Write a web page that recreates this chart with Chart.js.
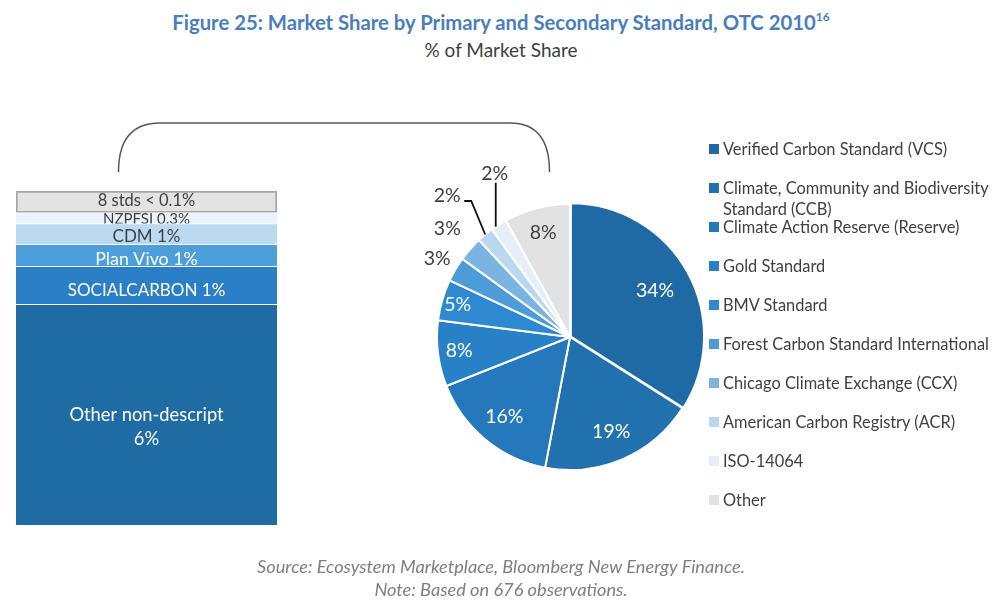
<!DOCTYPE html>
<html><head><meta charset="utf-8">
<script src="https://cdn.jsdelivr.net/npm/chart.js@4.4.0/dist/chart.umd.min.js"></script>
<style>
html,body{margin:0;padding:0;background:#fff;}
#wrap{position:relative;width:1002px;height:605px;overflow:hidden;font-family:Lato,"Open Sans",sans-serif;}
.abs{position:absolute;}
#title{left:0;width:1002px;top:5px;text-align:center;color:#4a7ebb;font-weight:bold;font-size:20.3px;line-height:26px;}
#title sup{font-size:12px;position:relative;top:-1px;}
#sub{left:0;width:1002px;top:38px;text-align:center;color:#404040;font-size:19px;line-height:24px;}
.src{left:0;width:1002px;text-align:center;color:#7f7f7f;font-style:italic;font-size:18.2px;line-height:22px;}
.leg{left:709px;width:293px;color:#404040;font-size:16.4px;line-height:21px;white-space:normal;}
.leg i{position:absolute;left:0;top:6px;width:10px;height:10px;}
.leg span{display:block;margin-left:14px;}
</style></head>
<body><div id="wrap">
<div id="title" class="abs">Figure 25: Market Share by Primary and Secondary Standard, OTC 2010<sup>16</sup></div>
<div id="sub" class="abs">% of Market Share</div>
<svg class="abs" style="left:0;top:0" width="1002" height="605">
<path d="M118.5,172 C118.5,142 130,123 160,123 L510,123 C538,123 549.5,142 549.5,172" fill="none" stroke="#595959" stroke-width="1.5"/>
</svg>
<canvas id="bar" class="abs" style="left:0;top:0" width="300" height="605"></canvas>
<canvas id="pie" class="abs" style="left:300px;top:0" width="702" height="605"></canvas>
<div id="legend"></div>
<div class="abs src" style="top:555px">Source: Ecosystem Marketplace, Bloomberg New Energy Finance.</div>
<div class="abs src" style="top:578px">Note: Based on 676 observations.</div>
</div>
<script>
// ---- data ----
const pieLabels = ['Verified Carbon Standard (VCS)', 'Climate, Community and Biodiversity Standard (CCB)', 'Climate Action Reserve (Reserve)', 'Gold Standard', 'BMV Standard', 'Forest Carbon Standard International', 'Chicago Climate Exchange (CCX)', 'American Carbon Registry (ACR)', 'ISO-14064', 'Other'];
const pieValues = [34, 19, 16, 8, 5, 3, 3, 2, 2, 8];
const pieColors = ['#1f6aa5', '#2171ae', '#2478bb', '#2880c6', '#2e89d1', '#4d9cd8', '#7ab5e1', '#b9d7ef', '#e6eff8', '#e2e2e2'];

const otherNames = ['Other non-descript', 'SOCIALCARBON', 'Plan Vivo', 'CDM', 'NZPFSI', '8 stds < 0.1%'];
const otherShareText = ['6%', '1%', '1%', '1%', '0.3%', ''];
const otherValues = [5.3, 0.91, 0.53, 0.5, 0.26, 0.52];
const otherColors = ['#1f6ba4', '#2a7fc6', '#4d9fdb', '#bbdaf2', '#eaf3fb', '#e3e3e3'];

Chart.defaults.font.family = 'Lato, "Open Sans", sans-serif';

// ---- stacked bar (breakdown of "Other") ----
const barLabelPlugin = {
  id: 'barLabels',
  afterDatasetsDraw(chart, args, opts) {
    const ctx = chart.ctx;
    chart.data.datasets.forEach((ds, i) => {
      const el = chart.getDatasetMeta(i).data[0];
      const p = el.getProps(['x', 'y', 'base', 'width'], true);
      const top = Math.min(p.y, p.base), bot = Math.max(p.y, p.base);
      const st = opts.styles[i];
      const lines = otherShareText[i] === '' ? [otherNames[i]] :
        (st.twoLines ? [otherNames[i], otherShareText[i]] : [otherNames[i] + ' ' + otherShareText[i]]);
      ctx.save();
      ctx.beginPath();
      ctx.rect(p.x - p.width / 2, top, p.width, bot - top);
      ctx.clip();
      ctx.fillStyle = st.color;
      ctx.font = st.size + 'px Lato, sans-serif';
      ctx.textAlign = 'center';
      ctx.textBaseline = 'middle';
      const lh = 24;
      const cy = (top + bot) / 2 + st.dy;
      lines.forEach((t, k) => ctx.fillText(t, p.x, cy + (k - (lines.length - 1) / 2) * lh));
      ctx.restore();
    });
  }
};
const barTotal = otherValues.reduce((a, b) => a + b, 0);
new Chart(document.getElementById('bar'), {
  type: 'bar',
  data: {
    labels: [''],
    datasets: otherNames.map((n, i) => ({
      label: n,
      data: [otherValues[i]],
      backgroundColor: otherColors[i],
      borderColor: i === 5 ? '#a6a6a6' : '#ffffff',
      borderWidth: i === 5 ? 2 : {top: 1, left: 0, right: 0, bottom: 0},
      borderSkipped: i === 5 ? false : 'start',
      barPercentage: 1,
      categoryPercentage: 1
    }))
  },
  options: {
    responsive: false, animation: false, devicePixelRatio: 1,
    layout: {padding: {left: 16, right: 23, top: 191, bottom: 80}},
    scales: {
      x: {display: false, stacked: true},
      y: {display: false, stacked: true, min: 0, max: barTotal}
    },
    plugins: {
      legend: {display: false}, tooltip: {enabled: false},
      barLabels: {styles: [
        {color: '#ffffff', size: 18.3, dy: 12.5, twoLines: true},
        {color: '#ffffff', size: 17, dy: 5},
        {color: '#ffffff', size: 17.8, dy: 3.5},
        {color: '#404040', size: 17, dy: 3},
        {color: '#404040', size: 15, dy: 1},
        {color: '#404040', size: 16.5, dy: -1}
      ]}
    }
  },
  plugins: [barLabelPlugin]
});

// ---- pie ----
const pieLabelPlugin = {
  id: 'pieLabels',
  afterDatasetsDraw(chart, args, opts) {
    const ctx = chart.ctx;
    const meta = chart.getDatasetMeta(0);
    meta.data.forEach((arc, i) => {
      const p = arc.getProps(['x', 'y', 'startAngle', 'endAngle', 'outerRadius'], true);
      const mid = (p.startAngle + p.endAngle) / 2;
      const s = opts.spec[i];
      const text = chart.data.datasets[0].data[i] + '%';
      ctx.save();
      ctx.font = '19.5px Lato, sans-serif';
      ctx.textAlign = 'center';
      ctx.textBaseline = 'middle';
      ctx.fillStyle = s.color;
      if (s.leader) {
        const ex = p.x + Math.cos(mid) * p.outerRadius;
        const ey = p.y + Math.sin(mid) * p.outerRadius;
        ctx.strokeStyle = '#111';
        ctx.lineWidth = 1.8;
        ctx.beginPath();
        s.leader.forEach((pt, k) => {
          if (k === 0) ctx.moveTo(ex + pt[0], ey + pt[1]); else ctx.lineTo(ex + pt[0], ey + pt[1]);
        });
        ctx.stroke();
        ctx.fillText(text, ex + s.label[0], ey + s.label[1]);
      } else {
        const r = p.outerRadius * s.r;
        ctx.fillText(text, p.x + Math.cos(mid) * r, p.y + Math.sin(mid) * r);
      }
      ctx.restore();
    });
  }
};
const pieChart = new Chart(document.getElementById('pie'), {
  type: 'pie',
  data: {
    labels: pieLabels,
    datasets: [{
      data: pieValues,
      backgroundColor: pieColors,
      borderColor: '#ffffff',
      borderWidth: 2,
      offset: [4, 0, 0, 0, 0, 0, 0, 0, 0, 0]
    }]
  },
  options: {
    responsive: false, animation: false, devicePixelRatio: 1,
    radius: 133,
    layout: {padding: {left: 0, right: 162, top: 69, bottom: 0}},
    plugins: {
      legend: {display: false}, tooltip: {enabled: false},
      pieLabels: {spec: [
        {r: 0.73, color: '#ffffff'},
        {r: 0.78, color: '#ffffff'},
        {r: 0.775, color: '#ffffff'},
        {r: 0.84, color: '#ffffff'},
        {r: 0.88, color: '#ffffff'},
        {r: 1.16, color: '#404040'},
        {r: 1.23, color: '#404040'},
        {color: '#404040', leader: [[0, 0], [-14, -33.5], [-21, -33.5]], label: [-38, -38.5]},
        {color: '#404040', leader: [[-3, 2], [-3, -42]], label: [-4, -51]},
        {r: 0.81, color: '#404040'}
      ]}
    }
  },
  plugins: [pieLabelPlugin]
});

// ---- HTML legend built from the chart ----
const legend = document.getElementById('legend');
const ds = pieChart.data.datasets[0];
pieChart.data.labels.forEach((lab, i) => {
  const d = document.createElement('div');
  d.className = 'abs leg';
  d.style.top = (137.5 + i * 39.1) + 'px';
  d.innerHTML = '<i style="background:' + ds.backgroundColor[i] + '"></i><span></span>';
  d.querySelector('span').textContent = lab;
  legend.appendChild(d);
});
</script>
</body></html>
